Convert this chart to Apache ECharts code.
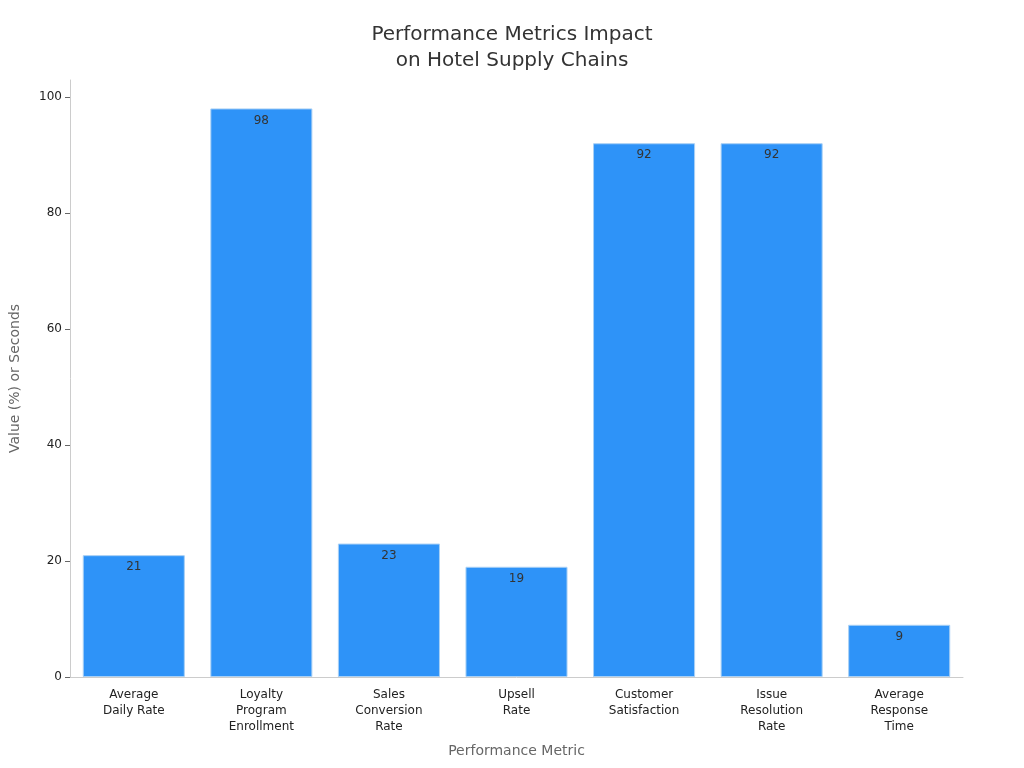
<!DOCTYPE html>
<html>
<head>
<meta charset="utf-8">
<script src="https://cdn.jsdelivr.net/npm/echarts@6/dist/echarts.min.js"></script>
<style>
  html, body { margin: 0; padding: 0; background: #fff; }
  #main { width: 1024px; height: 768px; }
</style>
</head>
<body>
<div id="main"></div>
<script>
const metrics = ['Average\nDaily Rate', 'Loyalty\nProgram\nEnrollment', 'Sales\nConversion\nRate', 'Upsell\nRate', 'Customer\nSatisfaction', 'Issue\nResolution\nRate', 'Average\nResponse\nTime'];
const values = [21, 98, 23, 19, 92, 92, 9];
const yTicks = [0, 20, 40, 60, 80, 100];

let chart = echarts.init(document.getElementById('main'));
let option = {
    textStyle: { fontFamily: 'DejaVu Sans' },
    title: {
        text: 'Performance Metrics Impact\non Hotel Supply Chains',
        left: 'center',
        top: 17,
        textStyle: { fontSize: 20, fontWeight: 'normal', color: '#333', lineHeight: 26, fontFamily: 'DejaVu Sans' }
    },
    grid: { left: 68, right: 61, top: 80, bottom: 91 },
    xAxis: {
        type: 'category',
        data: metrics,
        name: 'Performance Metric',
        nameLocation: 'middle',
        nameGap: 67,
        nameTextStyle: { fontSize: 14, color: '#666' },
        axisLine: { lineStyle: { color: '#ccc' } },
        axisTick: { alignWithLabel: true, length: 4, lineStyle: { color: '#666' } },
        axisLabel: { color: '#222', fontSize: 12, lineHeight: 16, interval: 0, margin: 10 }
    },
    yAxis: {
        type: 'value',
        min: 0,
        max: 102.9,
        interval: 20,
        name: 'Value (%) or Seconds',
        nameLocation: 'middle',
        nameGap: 48,
        nameTextStyle: { fontSize: 14, color: '#666' },
        axisLine: { show: true, lineStyle: { color: '#ccc' } },
        axisTick: { show: true, length: 5, customValues: yTicks, lineStyle: { color: '#666' } },
        axisLabel: { color: '#222', fontSize: 12, margin: 8, customValues: yTicks },
        splitLine: { show: false }
    },
    series: [{
        type: 'bar',
        data: values,
        barWidth: '80%',
        itemStyle: { color: '#2e93f8', borderColor: '#a9d0f5', borderWidth: 1 },
        label: { show: true, position: 'insideTop', color: '#333', fontSize: 12, distance: 6 }
    }]
};
chart.setOption(option);
</script>
</body>
</html>
